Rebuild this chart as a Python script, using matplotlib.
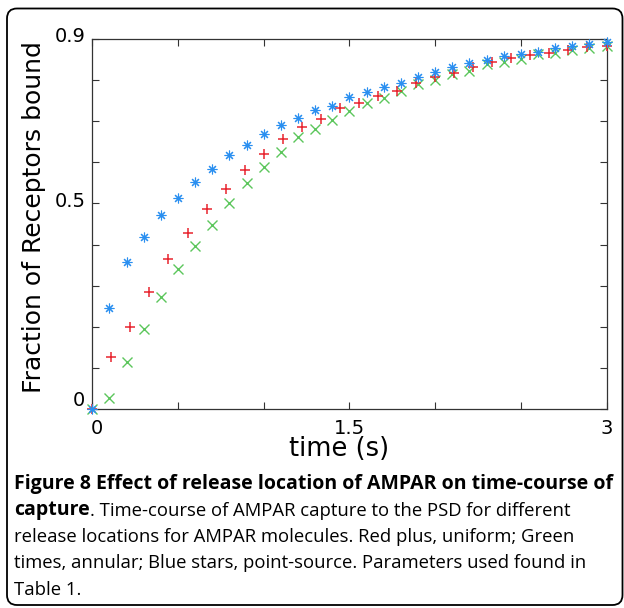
import matplotlib
matplotlib.use("Agg")
import matplotlib.pyplot as plt
import matplotlib.transforms as mtransforms
from matplotlib.patches import FancyBboxPatch

# ---------------- data ----------------
t_blue = [0.0, 0.1, 0.2, 0.3, 0.4, 0.5, 0.6, 0.7, 0.8, 0.9, 1.0, 1.1, 1.2, 1.3, 1.4, 1.5,
          1.6, 1.7, 1.8, 1.9, 2.0, 2.1, 2.2, 2.3, 2.4, 2.5, 2.6, 2.7, 2.8, 2.9, 3.0]
y_blue = [0.0, 0.245, 0.357, 0.419, 0.471, 0.513, 0.551, 0.583, 0.619, 0.643, 0.668,
          0.690, 0.709, 0.727, 0.738, 0.758, 0.770, 0.784, 0.794, 0.808, 0.820, 0.832,
          0.841, 0.849, 0.859, 0.864, 0.869, 0.877, 0.884, 0.889, 0.892]

t_green = [0.0, 0.1, 0.2, 0.3, 0.4, 0.5, 0.6, 0.7, 0.8, 0.9, 1.0, 1.1, 1.2, 1.3, 1.4, 1.5,
           1.6, 1.7, 1.8, 1.9, 2.0, 2.1, 2.2, 2.3, 2.4, 2.5, 2.6, 2.7, 2.8, 2.9, 3.0]
y_green = [0.0, 0.027, 0.114, 0.195, 0.273, 0.341, 0.397, 0.448, 0.502, 0.549, 0.589,
           0.624, 0.661, 0.681, 0.702, 0.725, 0.744, 0.757, 0.773, 0.791, 0.800, 0.814,
           0.822, 0.839, 0.844, 0.851, 0.864, 0.867, 0.873, 0.877, 0.883]

t_red = [0.0, 0.111, 0.222, 0.333, 0.444, 0.556, 0.667, 0.778, 0.889, 1.0, 1.111, 1.222,
         1.333, 1.444, 1.556, 1.667, 1.778, 1.889, 2.0, 2.111, 2.222, 2.333, 2.444, 2.556,
         2.667, 2.778, 2.889, 3.0]
y_red = [0.0, 0.127, 0.200, 0.285, 0.364, 0.429, 0.486, 0.535, 0.581, 0.621, 0.657, 0.687,
         0.706, 0.731, 0.744, 0.762, 0.774, 0.792, 0.807, 0.818, 0.831, 0.845, 0.853, 0.860,
         0.867, 0.873, 0.880, 0.884]

x_ticks = [0, 0.5, 1.0, 1.5, 2.0, 2.5, 3.0]
x_ticklabels = ["0", "", "", "1.5", "", "", "3"]
y_ticks = [0, 0.1, 0.2, 0.3, 0.4, 0.5, 0.6, 0.7, 0.8, 0.9]
y_ticklabels = ["0", "", "", "", "", "0.5", "", "", "", "0.9"]

xlabel = "time (s)"
ylabel = "Fraction of Receptors bound"

caption_bold1 = "Figure 8 Effect of release location of AMPAR on time-course of"
caption_bold2 = "capture"
caption_rest2 = ". Time-course of AMPAR capture to the PSD for different"
caption_lines = ["release locations for AMPAR molecules. Red plus, uniform; Green",
                 "times, annular; Blue stars, point-source. Parameters used found in",
                 "Table 1."]

# ---------------- figure ----------------
W, H = 624, 608
fig = plt.figure(figsize=(W / 100, H / 100), dpi=100)
fig.patch.set_facecolor("white")

L, R, T, B = 92.3, 606.5, 39.0, 409.0
ax = fig.add_axes([L / W, 1 - B / H, (R - L) / W, (B - T) / H])

ms = 6
ax.plot(t_green, y_green, linestyle="none", marker="x", color="#5cc65c",
        markersize=ms + 0.5, markeredgewidth=1.0, clip_on=False, zorder=3)
ax.plot(t_red, y_red, linestyle="none", marker="+", color="#e8252f",
        markersize=ms + 1, markeredgewidth=1.1, clip_on=False, zorder=4)
ax.plot(t_blue, y_blue, linestyle="none", marker=(8, 2, 0), color="#2a8ff0",
        markersize=ms + 1, markeredgewidth=0.8, clip_on=False, zorder=5)

ax.set_xlim(0, 3)
ax.set_ylim(0, 0.9)
ax.set_xticks(x_ticks)
ax.set_xticklabels(x_ticklabels)
ax.set_yticks(y_ticks)
ax.set_yticklabels(y_ticklabels)

for s in ax.spines.values():
    s.set_color("#333333")
    s.set_linewidth(0.9)
ax.tick_params(direction="in", length=5, width=0.8, color="#333333",
               top=True, right=True, labelsize=14, labelcolor="black")
ax.tick_params(axis="x", pad=7)
ax.tick_params(axis="y", pad=5)

# MATLAB-like small vertical offsets of y tick labels
offs = {"0": 11, "0.5": 4, "0.9": 5}
for lab in ax.get_yticklabels():
    txt = lab.get_text()
    if txt in offs:
        lab.set_transform(lab.get_transform() +
                          mtransforms.ScaledTranslation(0, offs[txt] / 100, fig.dpi_scale_trans))
for lab in ax.get_xticklabels():
    if lab.get_text() == "0":
        lab.set_transform(lab.get_transform() +
                          mtransforms.ScaledTranslation(5 / 100, 0, fig.dpi_scale_trans))

fig.text(339.5 / W, 1 - 436 / H, xlabel, fontsize=18.5, ha="center", va="top")
fig.text(34 / W, 1 - 217 / H, ylabel, fontsize=18, ha="center", va="center",
         rotation=90)

# ---------------- caption ----------------
cap_font = "Open Sans"
renderer = fig.canvas.get_renderer()
x0 = 14.0
base = [489.0, 515.5, 542.0, 568.5, 595.0]

t1 = fig.text(x0 / W, 1 - base[0] / H, caption_bold1, fontsize=12, family=cap_font,
              fontweight="bold", ha="left", va="baseline")
fs_b = 12 * (598.0 / t1.get_window_extent(renderer).width)
t1.set_fontsize(fs_b)

probe = fig.text(0, 0, caption_lines[1], fontsize=12, family=cap_font)
fs_n = 12 * (569.0 / probe.get_window_extent(renderer).width)
probe.remove()

t2 = fig.text(x0 / W, 1 - base[1] / H, caption_bold2, fontsize=fs_b, family=cap_font,
              fontweight="bold", ha="left", va="baseline")
wb = t2.get_window_extent(renderer).width
fig.text((x0 + wb) / W, 1 - base[1] / H, caption_rest2, fontsize=fs_n, family=cap_font,
         ha="left", va="baseline")
for i, line in enumerate(caption_lines):
    fig.text(x0 / W, 1 - base[2 + i] / H, line, fontsize=fs_n, family=cap_font,
             ha="left", va="baseline")

# rounded border
border = FancyBboxPatch((7, H - 605), 615.5, 596.5,
                        boxstyle="round,pad=0,rounding_size=10",
                        transform=mtransforms.IdentityTransform(),
                        facecolor="none", edgecolor="black", linewidth=1.3)
fig.patches.append(border)

fig.savefig("out.png", dpi=100)
